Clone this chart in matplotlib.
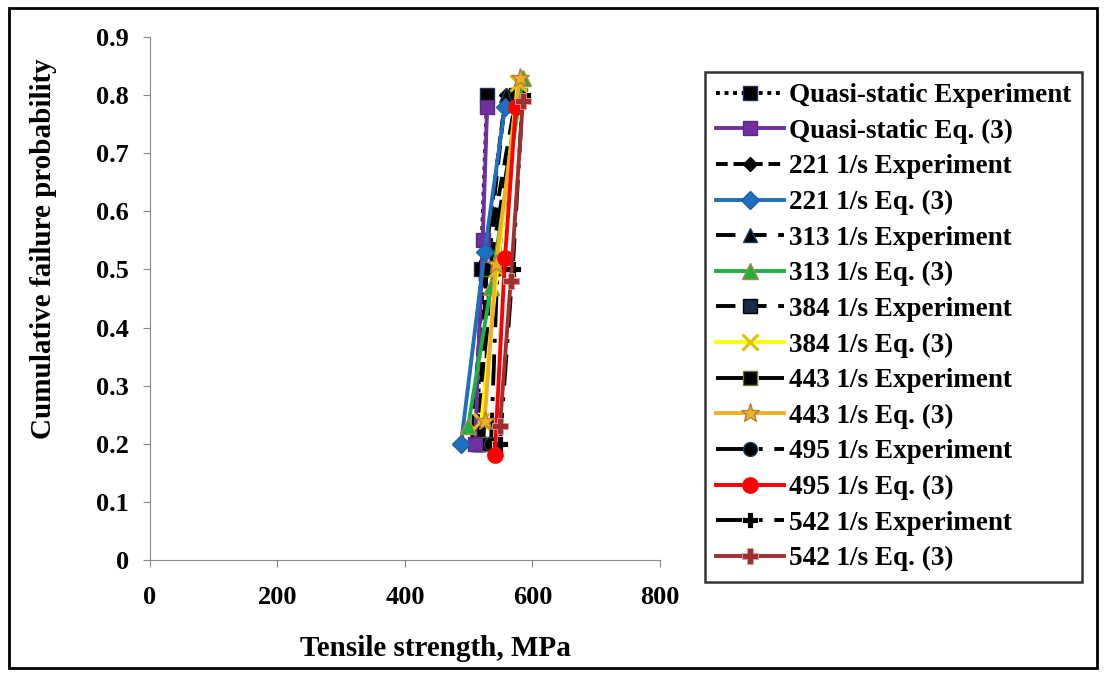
import matplotlib
matplotlib.use("Agg")
import matplotlib.pyplot as plt
from matplotlib.patches import Rectangle

plt.rcParams["font.family"] = ["Liberation Serif", "DejaVu Serif"]
plt.rcParams["font.weight"] = "bold"

# experiment probabilities (same for all rates)
exp_prob = [0.2, 0.5, 0.8]

qs_exp_x = [514, 519, 529]
qs_eq_x = [510, 522, 529]
qs_eq_y = [0.2, 0.55, 0.78]

r221_exp_x = [505, 524, 558]
r221_eq_x = [488, 525, 557]
r221_eq_y = [0.2, 0.53, 0.78]

r313_exp_x = [515, 528, 558]
r313_eq_x = [499, 535, 585]
r313_eq_y = [0.23, 0.47, 0.83]

r384_exp_x = [520, 527, 575]
r384_eq_x = [520, 545, 577]
r384_eq_y = [0.24, 0.50, 0.82]

r443_exp_x = [523, 533, 580]
r443_eq_x = [525, 543, 580]
r443_eq_y = [0.24, 0.51, 0.83]

r495_exp_x = [535, 545, 575]
r495_eq_x = [541, 557, 574]
r495_eq_y = [0.18, 0.52, 0.78]

r542_exp_x = [549, 569, 585]
r542_eq_x = [549, 566, 585]
r542_eq_y = [0.23, 0.48, 0.79]

x_ticks = [0, 200, 400, 600, 800]
y_ticks = [0, 0.1, 0.2, 0.3, 0.4, 0.5, 0.6, 0.7, 0.8, 0.9]

fig = plt.figure(figsize=(11.05, 6.75), dpi=100)
ax = fig.add_axes([0.1357, 0.1704, 0.4615, 0.7748])

lw = 2.8
ms = 10

# experiment curves (black, dashed styles)
ax.plot(qs_exp_x, exp_prob, color="black", ls=(0, (1, 1.2)), lw=lw, marker="s",
        ms=ms, mfc="black", mec="#1f2f5f", zorder=2, label="Quasi-static Experiment")
ax.plot(qs_eq_x, qs_eq_y, color="#7030a0", lw=lw, marker="s", ms=ms,
        mfc="#7030a0", mec="#5a2a80", zorder=3, label="Quasi-static Eq. (3)")
ax.plot(r221_exp_x, exp_prob, color="black", ls=(0, (3, 1.5)), lw=lw, marker="D",
        ms=7, mfc="black", zorder=2, label="221 1/s Experiment")
ax.plot(r221_eq_x, r221_eq_y, color="#1f6fc0", lw=lw, marker="D", ms=9,
        mfc="#1f6fc0", mec="#1f5fa0", zorder=3, label="221 1/s Eq. (3)")
ax.plot(r313_exp_x, exp_prob, color="black", ls=(0, (5, 3)), lw=lw, marker="^",
        ms=ms, mfc="black", mec="#1f3f5f", zorder=2, label="313 1/s Experiment")
ax.plot(r313_eq_x, r313_eq_y, color="#20b040", lw=lw, marker="^", ms=ms + 1,
        mfc="#20b040", mec="#b08a40", zorder=3, label="313 1/s Eq. (3)")
ax.plot(r384_exp_x, exp_prob, color="black", ls=(0, (5, 3)), lw=lw, marker="s",
        ms=ms, mfc="#1a2a4a", mec="black", zorder=2, label="384 1/s Experiment")
ax.plot(r384_eq_x, r384_eq_y, color="#ffff00", lw=lw, marker="x", ms=ms + 2,
        mew=2.2, mec="#e0c000", zorder=3, label="384 1/s Eq. (3)")
ax.plot(r443_exp_x, exp_prob, color="black", ls=(0, (8, 3)), lw=lw, marker="s",
        ms=ms, mfc="black", mec="#6a7a20", zorder=2, label="443 1/s Experiment")
ax.plot(r443_eq_x, r443_eq_y, color="#f0b020", lw=lw, marker="*", ms=ms + 4,
        mfc="#f0b020", mec="#b08040", zorder=3, label="443 1/s Eq. (3)")
ax.plot(r495_exp_x, exp_prob, color="black", ls=(0, (8, 3, 1, 3)), lw=lw,
        marker="o", ms=ms, mfc="black", mec="#1f3f5f", zorder=2,
        label="495 1/s Experiment")
ax.plot(r495_eq_x, r495_eq_y, color="#ff0000", lw=lw, marker="o", ms=ms + 1,
        mfc="#ff0000", mec="#ff0000", zorder=3, label="495 1/s Eq. (3)")
ax.plot(r542_exp_x, exp_prob, color="black", ls=(0, (8, 3, 1, 3)), lw=lw,
        marker="P", ms=ms + 2, mfc="black", mec="white", mew=0.6, zorder=2,
        label="542 1/s Experiment")
ax.plot(r542_eq_x, r542_eq_y, color="#a03030", lw=lw, marker="P", ms=ms + 2,
        mfc="#a03030", mec="#e0a0a0", mew=0.6, zorder=3, label="542 1/s Eq. (3)")

ax.set_xlim(0, 800)
ax.set_ylim(0, 0.9)
ax.set_xticks(x_ticks)
ax.set_yticks(y_ticks)
ax.set_yticklabels(["0"] + ["%.1f" % v for v in y_ticks[1:]])
for s in ["top", "right"]:
    ax.spines[s].set_visible(False)
for s in ["left", "bottom"]:
    ax.spines[s].set_color("#888888")
ax.tick_params(axis="both", colors="#888888", labelcolor="black", labelsize=19,
               length=5, direction="out")
ax.tick_params(axis="y", pad=10)
ax.tick_params(axis="x", pad=14)
for t in ax.get_xticklabels() + ax.get_yticklabels():
    t.set_fontweight("bold")

ax.set_xlabel("Tensile strength, MPa", fontsize=21, fontweight="bold")
ax.set_ylabel("Cumulative failure probability", fontsize=21, fontweight="bold")
ax.xaxis.set_label_coords(0.56, -0.143)
ax.yaxis.set_label_coords(-0.183, 0.595)

leg = fig.legend(loc="upper left", bbox_to_anchor=(0.638, 0.893), frameon=True,
                 fancybox=False, edgecolor="black",
                 prop={"size": 19.5, "weight": "bold"},
                 handlelength=2.5, handletextpad=0.2, labelspacing=0.39,
                 borderpad=0.4, borderaxespad=0)
leg.get_frame().set_linewidth(1.8)

fig.patches.append(Rectangle((0.008, 0.01), 0.985, 0.978, transform=fig.transFigure,
                             fill=False, edgecolor="black", lw=2))

fig.savefig("out.png", dpi=100)
